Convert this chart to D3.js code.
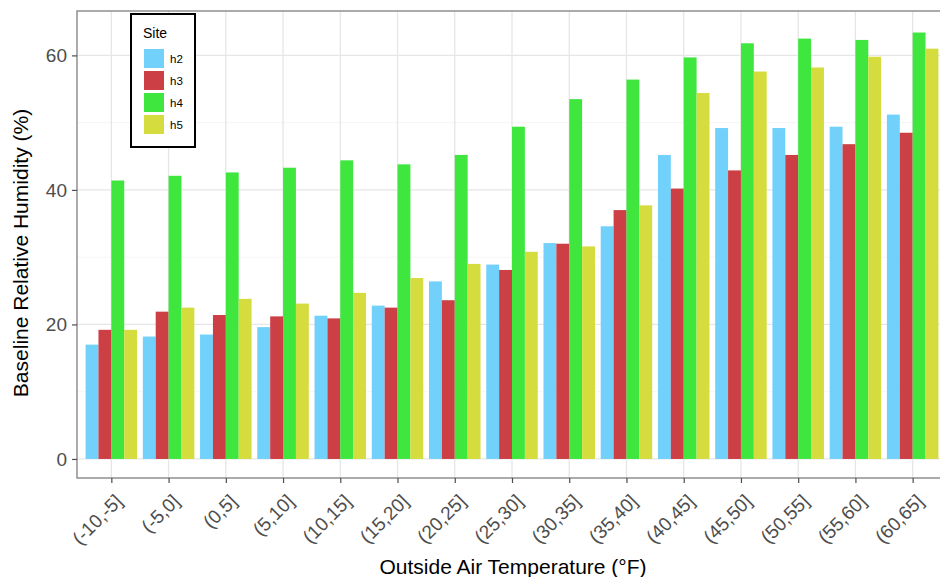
<!DOCTYPE html>
<html>
<head>
<meta charset="utf-8">
<script src="https://cdn.jsdelivr.net/npm/d3@7"></script>
<style>
  html, body { margin: 0; padding: 0; background: #fff; }
  svg { display: block; font-family: "Liberation Sans", Arial, sans-serif; }
</style>
</head>
<body>
<svg id="chart" width="940" height="577"></svg>
<script>
// Temperature bins (°F)
const categories = ["(-10,-5]", "(-5,0]", "(0,5]", "(5,10]", "(10,15]", "(15,20]", "(20,25]",
  "(25,30]", "(30,35]", "(35,40]", "(40,45]", "(45,50]", "(50,55]", "(55,60]", "(60,65]"];
const sites = ["h2", "h3", "h4", "h5"];

// Baseline relative humidity (%) per site and temperature bin
const h2 = [17.0, 18.2, 18.5, 19.6, 21.3, 22.8, 26.4, 28.9, 32.1, 34.6, 45.2, 49.2, 49.2, 49.4, 51.2];
const h3 = [19.2, 21.9, 21.4, 21.2, 20.9, 22.5, 23.6, 28.1, 32.0, 37.0, 40.2, 42.9, 45.2, 46.8, 48.5];
const h4 = [41.4, 42.1, 42.6, 43.3, 44.4, 43.8, 45.2, 49.4, 53.5, 56.4, 59.7, 61.8, 62.5, 62.3, 63.4];
const h5 = [19.2, 22.5, 23.8, 23.1, 24.7, 26.9, 29.0, 30.8, 31.6, 37.7, 54.4, 57.6, 58.2, 59.8, 61.0];
const seriesValues = [h2, h3, h4, h5];

const yTicks = [0, 20, 40, 60];
const yMinor = [10, 30, 50];
const colors = ["#72d1fb", "#cb3f45", "#3ee63e", "#d5dc3e"];

const svg = d3.select("#chart");

const panel = { left: 77, top: 11, right: 947, bottom: 478 };

// discrete x axis with ggplot-like 0.6 expansion on each side
const n = categories.length;
const step = (panel.right - panel.left) / (n - 1 + 1.2);
const x = d3.scalePoint().domain(categories)
  .range([panel.left + 0.6 * step, panel.right - 0.6 * step]);
const groupW = step * 0.9;
const xs = d3.scaleBand().domain(sites).range([-groupW / 2, groupW / 2]).padding(0);

const y = d3.scaleLinear().domain([-2.83, 66.6]).range([panel.bottom, panel.top]);

const g = svg.append("g");

// grid
g.selectAll(".minor").data(yMinor).join("line")
  .attr("x1", panel.left).attr("x2", panel.right)
  .attr("y1", d => y(d)).attr("y2", d => y(d))
  .attr("stroke", "#f2f2f2").attr("stroke-width", 0.8);
g.selectAll(".major").data(yTicks).join("line")
  .attr("x1", panel.left).attr("x2", panel.right)
  .attr("y1", d => y(d)).attr("y2", d => y(d))
  .attr("stroke", "#e6e6e6").attr("stroke-width", 1.3);
g.selectAll(".vgrid").data(categories).join("line")
  .attr("x1", d => x(d)).attr("x2", d => x(d))
  .attr("y1", panel.top).attr("y2", panel.bottom)
  .attr("stroke", "#e6e6e6").attr("stroke-width", 1.3);

// bars
const rows = categories.map((c, i) => ({ c, vals: sites.map((s, j) => ({ s, j, v: seriesValues[j][i] })) }));
const grp = g.selectAll(".grp").data(rows).join("g")
  .attr("transform", d => `translate(${x(d.c)},0)`);
grp.selectAll("rect").data(d => d.vals).join("rect")
  .attr("x", d => xs(d.s))
  .attr("width", xs.bandwidth())
  .attr("y", d => y(d.v))
  .attr("height", d => y(0) - y(d.v))
  .attr("fill", d => colors[d.j]);

// panel border
g.append("rect")
  .attr("x", panel.left).attr("y", panel.top)
  .attr("width", panel.right - panel.left).attr("height", panel.bottom - panel.top)
  .attr("fill", "none").attr("stroke", "#7f7f7f").attr("stroke-width", 1.3);

// y axis
const yAxis = g.append("g").attr("transform", `translate(${panel.left},0)`)
  .call(d3.axisLeft(y).tickValues(yTicks).tickSize(5).tickPadding(5));
yAxis.select(".domain").remove();
yAxis.selectAll(".tick line").attr("stroke", "#4d4d4d").attr("stroke-width", 1.2);
yAxis.selectAll(".tick text").attr("fill", "#4d4d4d").attr("font-size", 19)
  .attr("font-family", "Liberation Sans, Arial, sans-serif");

// x axis
const xAxis = g.append("g").attr("transform", `translate(0,${panel.bottom})`)
  .call(d3.axisBottom(x).tickSize(5).tickPadding(4));
xAxis.select(".domain").remove();
xAxis.selectAll(".tick line").attr("stroke", "#4d4d4d").attr("stroke-width", 1.2);
xAxis.selectAll(".tick text")
  .attr("fill", "#4d4d4d").attr("font-size", 19)
  .attr("font-family", "Liberation Sans, Arial, sans-serif")
  .attr("text-anchor", "end")
  .attr("dy", null).attr("y", 0)
  .attr("transform", "translate(2,15) rotate(-45)")
  .attr("dominant-baseline", "hanging");

// axis titles
svg.append("text")
  .attr("x", 513).attr("y", 574)
  .attr("text-anchor", "middle").attr("font-size", 21).attr("fill", "#000")
  .text("Outside Air Temperature (°F)");
svg.append("text")
  .attr("transform", `translate(28,253) rotate(-90)`)
  .attr("text-anchor", "middle").attr("font-size", 21).attr("fill", "#000")
  .text("Baseline Relative Humidity (%)");

// legend
const lg = svg.append("g").attr("transform", "translate(131,14)");
lg.append("rect").attr("width", 64).attr("height", 133)
  .attr("fill", "#fff").attr("stroke", "#000").attr("stroke-width", 2);
lg.append("text").attr("x", 12).attr("y", 24).attr("font-size", 14).text("Site");
const items = lg.selectAll(".item").data(sites).join("g")
  .attr("transform", (d, i) => `translate(13,${35 + i * 22})`);
items.append("rect").attr("width", 20).attr("height", 19)
  .attr("fill", (d, i) => colors[i]);
items.append("text").attr("x", 26).attr("y", 14).attr("font-size", 11.5).text(d => d);
</script>
</body>
</html>
